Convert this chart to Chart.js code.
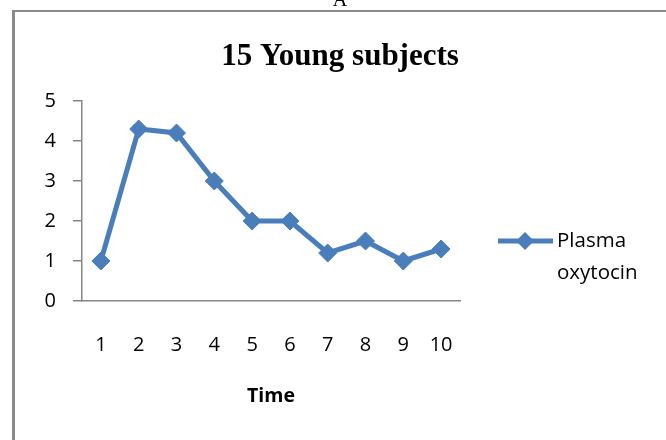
<!DOCTYPE html>
<html>
<head>
<meta charset="utf-8">
<script src="https://cdn.jsdelivr.net/npm/chart.js@4/dist/chart.umd.min.js"></script>
<style>
  html, body { margin: 0; padding: 0; background: #fff; }
  #wrap { position: relative; width: 666px; height: 440px; overflow: hidden; }
  canvas { display: block; }
</style>
</head>
<body>
<div id="wrap"><canvas id="c" width="666" height="440"></canvas></div>
<script>
// Time points and mean plasma oxytocin level at each
const timeLabels = ['1', '2', '3', '4', '5', '6', '7', '8', '9', '10'];
const oxytocin = [1, 4.3, 4.2, 3, 2, 2, 1.2, 1.5, 1, 1.3];
const seriesName = ['Plasma', 'oxytocin'];
const chartTitle = '15 Young subjects';
const axisTitle = 'Time';
const panelLetter = 'A';

const BLUE = '#4A7EBB';
const AXIS_GRAY = '#868686';
const SANS = '"Open Sans", "DejaVu Sans", sans-serif';
const SERIF = '"Liberation Serif", "Times New Roman", serif';

// Frame, panel letter, title and side legend drawn onto the canvas
const decorations = {
  id: 'decorations',
  beforeDraw(chart) {
    const ctx = chart.ctx;
    ctx.save();
    ctx.fillStyle = '#fff';
    ctx.fillRect(0, 0, chart.width, chart.height);
    ctx.strokeStyle = '#8a8a8a';
    ctx.lineWidth = 2;
    ctx.beginPath();
    ctx.moveTo(666, 11);
    ctx.lineTo(13, 11);
    ctx.stroke();
    ctx.lineWidth = 3;
    ctx.beginPath();
    ctx.moveTo(13.5, 10);
    ctx.lineTo(13.5, 440);
    ctx.stroke();
    ctx.fillStyle = '#000';
    ctx.font = '20px ' + SERIF;
    ctx.textAlign = 'center';
    ctx.textBaseline = 'alphabetic';
    ctx.fillText(panelLetter, 340, 5.5);
    ctx.restore();
  },
  afterDraw(chart) {
    const ctx = chart.ctx;
    ctx.save();
    ctx.fillStyle = '#000';
    ctx.font = 'bold 31px ' + SERIF;
    ctx.textAlign = 'center';
    ctx.textBaseline = 'alphabetic';
    ctx.fillText(chartTitle, 340, 65);

    const ds = chart.data.datasets[0];
    const ly = 241;
    ctx.strokeStyle = ds.borderColor;
    ctx.lineWidth = ds.borderWidth;
    ctx.beginPath();
    ctx.moveTo(498, ly);
    ctx.lineTo(553, ly);
    ctx.stroke();
    ctx.fillStyle = ds.pointBackgroundColor;
    ctx.beginPath();
    ctx.moveTo(525 - 9, ly);
    ctx.lineTo(525, ly - 9);
    ctx.lineTo(525 + 9, ly);
    ctx.lineTo(525, ly + 9);
    ctx.closePath();
    ctx.fill();
    ctx.fillStyle = '#000';
    ctx.font = '20.5px ' + SANS;
    ctx.textAlign = 'left';
    ctx.textBaseline = 'middle';
    ds.label.forEach((line, i) => ctx.fillText(line, 557, ly + i * 32));
    ctx.restore();
  }
};

new Chart(document.getElementById('c'), {
  type: 'line',
  data: {
    labels: timeLabels,
    datasets: [{
      label: seriesName,
      data: oxytocin,
      borderColor: BLUE,
      backgroundColor: BLUE,
      pointBackgroundColor: BLUE,
      pointBorderColor: BLUE,
      borderWidth: 5,
      pointStyle: 'rectRot',
      pointRadius: 9,
      pointBorderWidth: 1,
      tension: 0,
      fill: false
    }]
  },
  options: {
    responsive: false,
    animation: false,
    events: [],
    layout: { padding: { left: 0, right: 206, top: 101, bottom: 0 } },
    plugins: {
      legend: { display: false },
      title: { display: false },
      tooltip: { enabled: false }
    },
    scales: {
      x: {
        type: 'category',
        offset: true,
        grid: { display: false, drawTicks: false },
        border: { display: true, color: AXIS_GRAY, width: 1.5 },
        ticks: {
          color: '#000',
          font: { family: SANS, size: 20 },
          padding: 32,
          maxRotation: 0,
          autoSkip: false
        },
        title: {
          display: true,
          text: axisTitle,
          color: '#000',
          font: { family: SANS, size: 19.5, weight: 'bold' },
          padding: { top: 0, bottom: 32 }
        },
        afterFit(scale) { scale.height = 139; }
      },
      y: {
        min: 0,
        max: 5,
        grid: { drawOnChartArea: false, drawTicks: true, tickLength: 9, color: AXIS_GRAY, lineWidth: 1.5 },
        border: { display: true, color: AXIS_GRAY, width: 1.5 },
        ticks: {
          stepSize: 1,
          color: '#000',
          font: { family: SANS, size: 20 },
          padding: 17
        },
        afterFit(scale) { scale.width = 82; }
      }
    }
  },
  plugins: [decorations]
});
</script>
</body>
</html>
